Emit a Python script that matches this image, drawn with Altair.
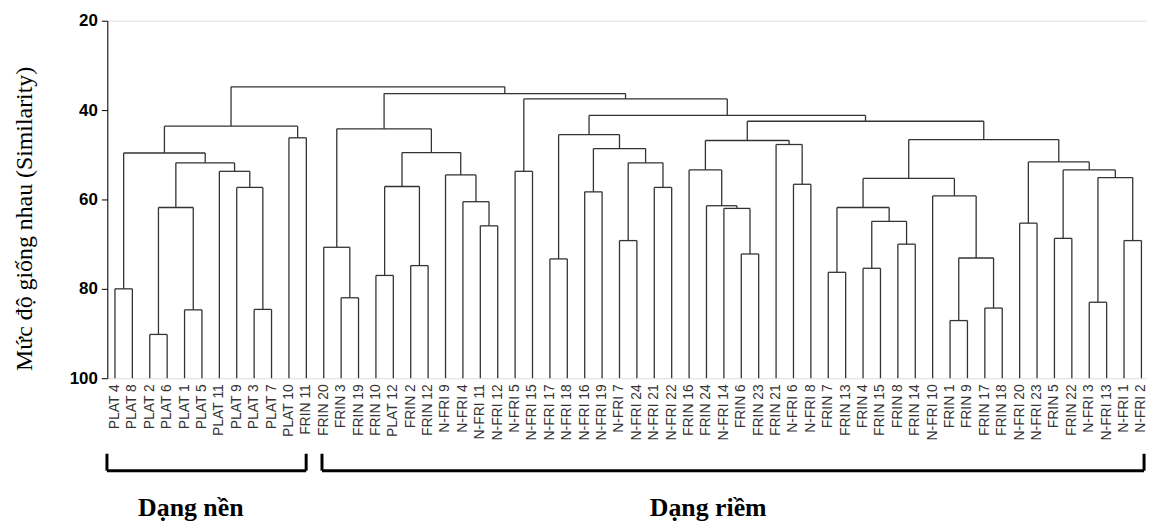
import altair as alt
import pandas as pd

# Leaf order (left to right)
leaves = [
    "PLAT 4", "PLAT 8", "PLAT 2", "PLAT 6", "PLAT 1", "PLAT 5", "PLAT 11", "PLAT 9",
    "PLAT 3", "PLAT 7", "PLAT 10", "FRIN 11", "FRIN 20", "FRIN 3", "FRIN 19", "FRIN 10",
    "PLAT 12", "FRIN 2", "FRIN 12", "N-FRI 9", "N-FRI 4", "N-FRI 11", "N-FRI 12", "N-FRI 5",
    "N-FRI 15", "N-FRI 17", "N-FRI 18", "N-FRI 16", "N-FRI 19", "N-FRI 7", "N-FRI 24",
    "N-FRI 21", "N-FRI 22", "FRIN 16", "FRIN 24", "N-FRI 14", "FRIN 6", "FRIN 23", "FRIN 21",
    "N-FRI 6", "N-FRI 8", "FRIN 7", "FRIN 13", "FRIN 4", "FRIN 15", "FRIN 8", "FRIN 14",
    "N-FRI 10", "FRIN 1", "FRIN 9", "FRIN 17", "FRIN 18", "N-FRI 20", "N-FRI 23", "FRIN 5",
    "FRIN 22", "N-FRI 3", "N-FRI 13", "N-FRI 1", "N-FRI 2",
]
leaf_similarity = 100

# Merges: children are leaf names or "#k" (k-th merge), with similarity level
merge_left = [
    "PLAT 4", "PLAT 2", "PLAT 1", "#1", "PLAT 3", "PLAT 9", "PLAT 11", "#3", "#0", "PLAT 10", "#8",
    "FRIN 3", "FRIN 20", "FRIN 10", "FRIN 2", "#13", "N-FRI 11", "N-FRI 4", "N-FRI 9", "#15", "#12",
    "N-FRI 5", "N-FRI 17", "N-FRI 16", "N-FRI 7", "N-FRI 21", "#24", "#23", "#22",
    "FRIN 6", "N-FRI 14", "FRIN 24", "FRIN 16", "N-FRI 6", "FRIN 21", "#32",
    "FRIN 7", "FRIN 4", "FRIN 8", "#37", "#36", "FRIN 1", "FRIN 17", "#41", "N-FRI 10", "#40",
    "N-FRI 20", "FRIN 5", "N-FRI 3", "N-FRI 1", "#48", "#47", "#46", "#45", "#35", "#28", "#21",
    "#20", "#10",
]
merge_right = [
    "PLAT 8", "PLAT 6", "PLAT 5", "#2", "PLAT 7", "#4", "#5", "#6", "#7", "FRIN 11", "#9",
    "FRIN 19", "#11", "PLAT 12", "FRIN 12", "#14", "N-FRI 12", "#16", "#17", "#18", "#19",
    "N-FRI 15", "N-FRI 18", "N-FRI 19", "N-FRI 24", "N-FRI 22", "#25", "#26", "#27",
    "FRIN 23", "#29", "#30", "#31", "N-FRI 8", "#33", "#34",
    "FRIN 13", "FRIN 15", "FRIN 14", "#38", "#39", "FRIN 9", "FRIN 18", "#42", "#43", "#44",
    "N-FRI 23", "FRIN 22", "N-FRI 13", "N-FRI 2", "#49", "#50", "#51", "#52", "#53", "#54", "#55",
    "#56", "#57",
]
merge_height = [
    80.0, 90.2, 84.7, 61.8, 84.6, 57.3, 53.7, 51.8, 49.6, 46.2, 43.6,
    82.0, 70.7, 77.0, 74.8, 57.1, 65.9, 60.5, 54.5, 49.5, 44.2,
    53.7, 73.3, 58.3, 69.2, 57.3, 51.8, 48.6, 45.5,
    72.2, 62.0, 61.4, 53.4, 56.6, 47.7, 46.8,
    76.3, 75.4, 70.0, 64.9, 61.8, 87.1, 84.3, 73.1, 59.2, 55.3,
    65.3, 68.7, 83.0, 69.2, 55.1, 53.4, 51.6, 46.6, 42.5, 41.2, 37.5,
    36.3, 34.8,
]

groups = ["Dạng nền", "Dạng riềm"]
group_start = [-0.46, 11.9]
group_end = [10.99, 59.15]
group_label_x = [4.36, 34.1]

y_ticks = [20, 40, 60, 80, 100]

# ---- build segments ----
pos = {name: (i, leaf_similarity) for i, name in enumerate(leaves)}


def node(ref, done):
    if ref.startswith("#"):
        return done[int(ref[1:])]
    return pos[ref]


done = []
segs = []
for a, b, h in zip(merge_left, merge_right, merge_height):
    xa, ha = node(a, done)
    xb, hb = node(b, done)
    segs.append({"x": xa, "x2": xa, "y": ha, "y2": h})
    segs.append({"x": xb, "x2": xb, "y": hb, "y2": h})
    segs.append({"x": xa, "x2": xb, "y": h, "y2": h})
    done.append(((xa + xb) / 2, h))
seg_df = pd.DataFrame(segs)

leaf_df = pd.DataFrame({"label": leaves, "x": list(range(len(leaves))), "y": [leaf_similarity] * len(leaves)})

br_y = 120.7
br_top = 116.9
br_rows = []
for s, e in zip(group_start, group_end):
    br_rows.append({"x": s, "x2": e, "y": br_y, "y2": br_y})
    br_rows.append({"x": s, "x2": s, "y": br_top, "y2": br_y})
    br_rows.append({"x": e, "x2": e, "y": br_top, "y2": br_y})
br_df = pd.DataFrame(br_rows)
grp_df = pd.DataFrame({"label": groups, "x": group_label_x, "y": [130.9, 130.9]})

xscale = alt.Scale(domain=[-0.44, 59.32], nice=False, zero=False)
yscale = alt.Scale(domain=[20, 100], reverse=True, nice=False, zero=False)

tree = alt.Chart(seg_df).mark_rule(color="#333333", strokeWidth=1.3).encode(
    x=alt.X("x:Q", scale=xscale, axis=None),
    x2="x2:Q",
    y=alt.Y(
        "y:Q",
        scale=yscale,
        axis=alt.Axis(
            values=y_ticks,
            title="Mức độ giống nhau (Similarity)",
            titleFont="Liberation Serif",
            titleFontSize=24,
            titleFontWeight="normal",
            titleColor="black",
            titleAngle=270,
            titleAlign="center",
            titleBaseline="middle",
            titleX=-83,
            titleY=199,
            labelFont="Liberation Sans",
            labelFontSize=17,
            labelFontWeight="bold",
            labelColor="black",
            labelPadding=4,
            tickSize=6,
            tickColor="black",
            domainColor="black",
            grid=False,
        ),
    ),
    y2="y2:Q",
)

labels = alt.Chart(leaf_df).mark_text(
    angle=270, align="right", baseline="middle", dx=-6,
    font="Liberation Sans", fontSize=14, color="#333333",
).encode(x=alt.X("x:Q", scale=xscale), y=alt.Y("y:Q", scale=yscale), text="label:N")

brackets = alt.Chart(br_df).mark_rule(color="black", strokeWidth=3).encode(
    x=alt.X("x:Q", scale=xscale), x2="x2:Q", y=alt.Y("y:Q", scale=yscale), y2="y2:Q"
)

group_text = alt.Chart(grp_df).mark_text(
    align="center", baseline="alphabetic", font="Liberation Serif", fontSize=26,
    fontWeight="bold", color="black",
).encode(x=alt.X("x:Q", scale=xscale), y=alt.Y("y:Q", scale=yscale), text="label:N")

chart = alt.layer(tree, labels, brackets, group_text).properties(
    width=1047,
    height=360,
    padding={"left": 100, "top": 11, "right": 0, "bottom": 146},
    autosize=alt.AutoSizeParams(type="none"),
).configure_view(stroke=None).configure(background="white")

chart.save("out.html", embed_options={"renderer": "svg", "actions": False})
